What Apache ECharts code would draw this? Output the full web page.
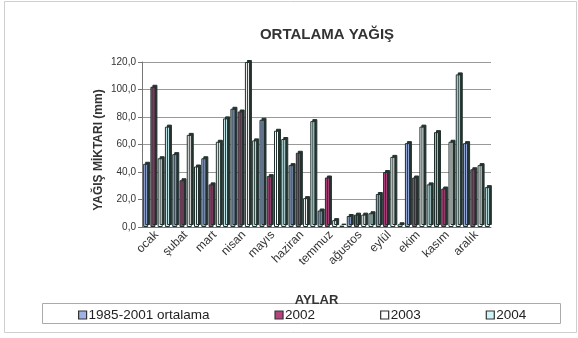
<!DOCTYPE html>
<html>
<head>
<meta charset="utf-8">
<script src="https://cdn.jsdelivr.net/npm/echarts@6/dist/echarts.min.js"></script>
<style>
  html, body { margin: 0; padding: 0; background: #fff; }
  #chart { width: 578px; height: 338px; }
</style>
</head>
<body>
<div id="chart"></div>
<script>
// Monthly precipitation (mm)
const months = ['ocak', 'şubat', 'mart', 'nisan', 'mayıs', 'haziran', 'temmuz', 'ağustos', 'eylül', 'ekim', 'kasım', 'aralık'];
const seriesNames = ['1985-2001 ortalama', '2002', '2003', '2004'];
const avg8501 = [46, 53, 50, 86, 78, 45, 12, 8, 24, 61, 69, 61];
const y2002   = [102, 34, 31, 84, 37, 54, 36, 9, 40, 36, 28, 42];
const y2003   = [50, 67, 62, 120, 70, 21, 5, 9, 51, 73, 62, 45];
const y2004   = [73, 44, 79, 63, 64, 77, 1, 10, 2, 31, 111, 29];
const yTicks  = [0, 20, 40, 60, 80, 100, 120];

const fills = ['#9fb2e6', '#b3427d', '#ffffff', '#cdf4f6'];
const edge = '#1f302c';
const seriesData = [avg8501, y2002, y2003, y2004];

const chart = echarts.init(document.getElementById('chart'), null, { renderer: 'canvas' });

// dark offset shadow gives each bar a box-like side face
const series = seriesData.map((d, i) => ({
  name: seriesNames[i],
  type: 'bar',
  data: d,
  barWidth: 5,
  barGap: '45%',
  itemStyle: {
    color: fills[i],
    borderColor: edge,
    borderWidth: 1,
    shadowColor: '#24332f',
    shadowBlur: 0,
    shadowOffsetX: 2,
    shadowOffsetY: -2
  }
}));

chart.setOption({
  animation: false,
  backgroundColor: '#ffffff',
  title: {
    text: 'ORTALAMA YAĞIŞ',
    left: 322, top: 22, textAlign: 'center',
    textStyle: { fontFamily: 'Liberation Sans, Arial', fontSize: 15, fontWeight: 'bold', color: '#333' }
  },
  grid: { left: 142, right: 87, top: 62, bottom: 111 },
  legend: {
    data: seriesNames.map((n, i) => ({ name: n, icon: 'rect', itemStyle: { color: fills[i], borderColor: '#333', borderWidth: 1.2 } })),
    left: 78, top: 308, padding: 0,
    itemWidth: 8, itemHeight: 8, itemGap: 65,
    textStyle: { fontFamily: 'Liberation Sans, Arial', fontSize: 13.5, color: '#222', padding: [0, 0, 0, -3] }
  },
  xAxis: {
    type: 'category',
    data: months,
    name: 'AYLAR',
    nameLocation: 'middle',
    nameGap: 67,
    nameTextStyle: { fontFamily: 'Liberation Sans, Arial', fontSize: 13, fontWeight: 'bold', color: '#333' },
    axisLine: { lineStyle: { color: '#777' } },
    axisTick: { lineStyle: { color: '#777' }, length: 4 },
    axisLabel: { rotate: 45, interval: 0, fontFamily: 'Liberation Sans, Arial', fontSize: 12, color: '#333', margin: 6 }
  },
  yAxis: {
    type: 'value',
    min: yTicks[0], max: yTicks[yTicks.length - 1], interval: yTicks[1] - yTicks[0],
    axisLine: { show: true, lineStyle: { color: '#777' } },
    axisTick: { show: true, lineStyle: { color: '#777' }, length: 4 },
    splitLine: { lineStyle: { color: '#999' } },
    axisLabel: {
      fontFamily: 'Liberation Sans, Arial', fontSize: 10, color: '#333', margin: 6,
      formatter: v => v.toFixed(1).replace('.', ',')
    }
  },
  graphic: [
    { type: 'rect', shape: { x: 4.5, y: 1.5, width: 572, height: 331 }, style: { fill: 'none', stroke: '#cfcfcf', lineWidth: 1 }, z: -1 },
    { type: 'rect', shape: { x: 42.5, y: 303.5, width: 518, height: 20 }, style: { fill: 'none', stroke: '#aaa', lineWidth: 1 }, z: -1 },
    {
      type: 'text', x: 99, y: 150, rotation: Math.PI / 2,
      style: {
        text: 'YAĞIŞ MİKTARI (mm)', align: 'center', verticalAlign: 'middle',
        font: 'bold 12px "Liberation Sans", Arial', fill: '#333'
      }
    }
  ],
  series: series
});
</script>
</body>
</html>
